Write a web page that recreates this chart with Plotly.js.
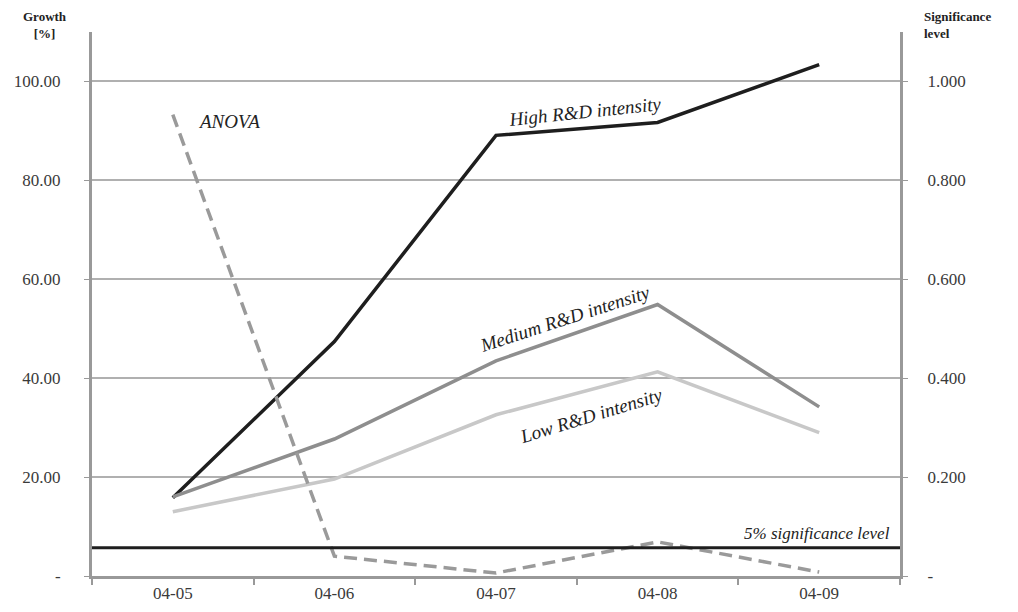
<!DOCTYPE html>
<html><head><meta charset="utf-8">
<script src="https://cdn.plot.ly/plotly-3.0.1.min.js"></script>
<style>body{margin:0;background:#fff}#c{width:1018px;height:612px}</style>
</head><body><div id="c"></div>
<script>
const periods = ["04-05","04-06","04-07","04-08","04-09"];
const highRD = [15.8, 47.4, 89.1, 91.7, 103.4];
const mediumRD = [16.0, 27.7, 43.5, 54.9, 34.2];
const lowRD = [13.0, 19.6, 32.6, 41.3, 29.0];
const anova = [0.933, 0.040, 0.006, 0.069, 0.008];
const sigLevel = 0.057;
const leftTickVals = [0, 20, 40, 60, 80, 100];
const leftTickText = ["-", "20.00", "40.00", "60.00", "80.00", "100.00"];
const rightTickVals = [0, 0.2, 0.4, 0.6, 0.8, 1.0];
const rightTickText = ["-", "0.200", "0.400", "0.600", "0.800", "1.000"];

const serif = "Liberation Serif, Times New Roman, serif";
const tf = {family: serif, size: 17, color: "#3a3a3a"};
const traces = [
  {x: periods, y: highRD, type: "scatter", mode: "lines", name: "High R&D intensity", line: {color: "#1e1e1e", width: 3.5}},
  {x: periods, y: mediumRD, type: "scatter", mode: "lines", name: "Medium R&D intensity", line: {color: "#8e8e8e", width: 3.5}},
  {x: periods, y: lowRD, type: "scatter", mode: "lines", name: "Low R&D intensity", line: {color: "#c8c8c8", width: 3.5}},
  {x: periods, y: anova, yaxis: "y2", type: "scatter", mode: "lines", name: "ANOVA", line: {color: "#9a9a9a", width: 3.5, dash: "13px,7px"}}
];
const layout = {
  width: 1018, height: 612,
  margin: {l: 92, r: 118, t: 32, b: 36},
  paper_bgcolor: "#fff", plot_bgcolor: "#fff",
  showlegend: false,
  font: {family: serif, size: 14, color: "#333"},
  xaxis: {
    type: "category", range: [-0.5, 4.5], tickson: "boundaries",
    ticks: "outside", ticklen: 6, tickwidth: 2, tickcolor: "#999",
    showline: true, linecolor: "#999", linewidth: 3, showgrid: false,
    tickfont: tf
  },
  yaxis: {
    range: [0, 110], tickvals: leftTickVals, ticktext: leftTickText,
    showgrid: true, gridcolor: "#b0b0b0", gridwidth: 2, zeroline: false,
    showline: true, linecolor: "#999", linewidth: 3,
    ticks: "outside", ticklen: 5, tickcolor: "#999", tickwidth: 1,
    ticklabelstandoff: 20,
    tickfont: tf
  },
  yaxis2: {
    overlaying: "y", side: "right", range: [0, 1.1],
    tickvals: rightTickVals, ticktext: rightTickText,
    showgrid: false, zeroline: false,
    showline: true, linecolor: "#999", linewidth: 3,
    ticks: "outside", ticklen: 5, tickcolor: "#999", tickwidth: 1,
    ticklabelstandoff: 16,
    tickfont: tf
  },
  shapes: [
    {type: "line", xref: "paper", x0: 0, x1: 1, yref: "y2", y0: sigLevel, y1: sigLevel, line: {color: "#1e1e1e", width: 3}}
  ],
  annotations: [
    {xref: "paper", yref: "paper", x: -0.0585, y: 1.046, xanchor: "center", yanchor: "top", showarrow: false,
     text: "<b>Growth<br>[%]</b>", font: {family: serif, size: 13, color: "#222"}},
    {xref: "paper", yref: "paper", x: 1.027, y: 1.046, xanchor: "left", yanchor: "top", showarrow: false, align: "left",
     text: "<b>Significance<br>level</b>", font: {family: serif, size: 13, color: "#222"}},
    {xref: "x", yref: "y", x: 2.55, y: 94.0, showarrow: false, textangle: -6,
     text: "<i>High R&amp;D intensity</i>", font: {family: serif, size: 19, color: "#222"}},
    {xref: "x", yref: "y", x: 2.43, y: 52.0, showarrow: false, textangle: -18,
     text: "<i>Medium R&amp;D intensity</i>", font: {family: serif, size: 19, color: "#222"}},
    {xref: "x", yref: "y", x: 2.59, y: 32.4, showarrow: false, textangle: -17,
     text: "<i>Low R&amp;D intensity</i>", font: {family: serif, size: 19, color: "#222"}},
    {xref: "x", yref: "y", x: 0.35, y: 92.0, showarrow: false,
     text: "<i>ANOVA</i>", font: {family: serif, size: 19, color: "#222"}},
    {xref: "paper", yref: "y2", x: 0.99, y: sigLevel, xanchor: "right", yanchor: "bottom", yshift: 3, showarrow: false,
     text: "<i>5% significance level</i>", font: {family: serif, size: 17, color: "#222"}}
  ]
};
Plotly.newPlot("c", traces, layout, {displayModeBar: false, staticPlot: true});
</script></body></html>
